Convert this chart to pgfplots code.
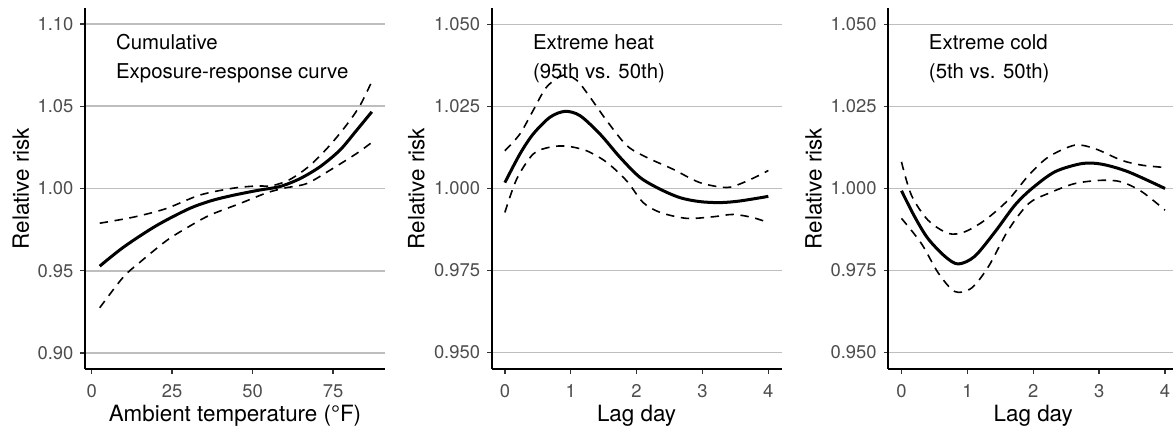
\documentclass[border=0pt]{standalone}
\usepackage{pgfplots}
\pgfplotsset{compat=1.18}
\usepackage{fontspec}
\setmainfont{TeX Gyre Heros}

\definecolor{tickgray}{HTML}{4D4D4D}
\definecolor{gridgray}{HTML}{BEBEBE}

\pgfplotsset{
  rrpanel/.style={
    scale only axis, height=180.5pt, anchor=south west,
    axis x line=bottom, axis y line=left,
    axis line style={-, line width=0.9pt, black},
    tick align=outside, major tick length=2.3pt,
    tick style={line width=0.7pt, black!80},
    ymajorgrids, grid style={gridgray, line width=0.9pt},
    /pgf/number format/assume math mode=true,
    ticklabel style={font=\fontsize{9.2}{11}\selectfont, text=tickgray},
    xticklabel style={yshift=-2pt},
    label style={font=\fontsize{11.2}{13}\selectfont},
    xlabel style={anchor=base, at={(axis description cs:0.5,-0.145)}},
    clip=false,
  },
  solidrr/.style={black, line width=1.5pt, smooth, no markers},
  dashrr/.style={black, line width=0.8pt, smooth, no markers, dash pattern=on 4.2pt off 3.3pt},
}
\tikzset{note/.style={anchor=base west, font=\fontsize{10.2}{12}\selectfont}}

\begin{document}
\begin{tikzpicture}
\useasboundingbox (0,0) rectangle (586.5pt,216pt);
\clip (0,0) rectangle (586.5pt,216pt);

% cumulative exposure-response
\begin{axis}[rrpanel, at={(42.5pt,31.5pt)}, width=150pt,
  xmin=-2.07, xmax=91.1, ymin=0.8903, ymax=1.1097,
  xtick={0,25,50,75}, ytick={0.90,0.95,1.00,1.05,1.10},
  yticklabel style={/pgf/number format/.cd, fixed, fixed zerofill, precision=2},
  xlabel={Ambient temperature (°F)}, ylabel={Relative risk},
  ylabel style={at={(axis description cs:-0.187,0.5)}, anchor=base}]
\addplot[dashrr] coordinates {(2.5,0.9789) (13,0.9826) (23,0.9877) (33.6,0.9960) (44,1.0002) (51,1.0015) (56,1.0017) (61.6,1.0055) (67.8,1.0140) (74,1.0263) (79.7,1.0400) (83.5,1.0510) (87,1.0650)};
\addplot[dashrr] coordinates {(2.5,0.9275) (9.8,0.9461) (15,0.9552) (23.3,0.9684) (30,0.9766) (36.7,0.9838) (46.1,0.9909) (54.3,0.9973) (60,1.0003) (66.8,1.0030) (74,1.0111) (82.3,1.0213) (87,1.0280)};
\addplot[solidrr] coordinates {(2.5,0.9528) (10,0.9645) (20,0.9773) (30,0.9875) (37,0.9925) (44,0.9959) (52,0.9990) (58.5,1.0012) (64.7,1.0060) (70.9,1.0132) (77.1,1.0233) (82.3,1.0354) (87,1.0466)};
\node[note] at (axis cs:5.4,1.0844) {Cumulative};
\node[note] at (axis cs:5.4,1.0668) {Exposure-response curve};
\end{axis}

% extreme heat
\begin{axis}[rrpanel, at={(245.85pt,31.5pt)}, width=144.9pt,
  xmin=-0.2, xmax=4.2, ymin=0.945, ymax=1.055,
  xtick={0,1,2,3,4}, ytick={0.950,0.975,1.000,1.025,1.050},
  yticklabel style={/pgf/number format/.cd, fixed, fixed zerofill, precision=3},
  xlabel={Lag day}, ylabel={Relative risk},
  ylabel style={at={(axis description cs:-0.2326,0.5)}, anchor=base}]
\addplot[dashrr] coordinates {(0,1.0115) (0.228,1.0166) (0.43,1.0238) (0.633,1.0309) (0.886,1.0345) (1.09,1.0330) (1.29,1.0279) (1.545,1.0207) (1.85,1.0131) (2.15,1.0095) (2.55,1.0059) (2.96,1.0018) (3.37,1.0003) (3.62,1.0018) (3.9,1.0044) (4,1.0055)};
\addplot[dashrr] coordinates {(0,0.9927) (0.18,1.0029) (0.43,1.0105) (0.684,1.0126) (0.937,1.0129) (1.24,1.0115) (1.545,1.0080) (1.85,1.0023) (2.1,0.9957) (2.36,0.9927) (2.76,0.9909) (3.17,0.9914) (3.47,0.9921) (3.77,0.9911) (4,0.9896)};
\addplot[solidrr] coordinates {(0,1.0018) (0.228,1.0105) (0.43,1.0166) (0.684,1.0217) (0.912,1.0235) (1.14,1.0222) (1.444,1.0166) (1.748,1.0095) (2.05,1.0034) (2.356,0.9998) (2.66,0.9972) (2.96,0.9960) (3.27,0.9957) (3.57,0.9962) (4,0.9976)};
\node[note] at (axis cs:0.32,1.0422) {Extreme heat};
\node[note] at (axis cs:0.32,1.0334) {(95th vs. 50th)};
\end{axis}

% extreme cold
\begin{axis}[rrpanel, at={(444.15pt,31.5pt)}, width=144.95pt,
  xmin=-0.2, xmax=4.2, ymin=0.945, ymax=1.055,
  xtick={0,1,2,3,4}, ytick={0.950,0.975,1.000,1.025,1.050},
  yticklabel style={/pgf/number format/.cd, fixed, fixed zerofill, precision=3},
  xlabel={Lag day}, ylabel={Relative risk},
  ylabel style={at={(axis description cs:-0.23,0.5)}, anchor=base}]
\addplot[dashrr] coordinates {(0,1.0081) (0.15,0.9980) (0.40,0.9904) (0.71,0.9863) (0.96,0.9868) (1.27,0.9904) (1.62,0.9965) (1.93,1.0040) (2.23,1.0096) (2.63,1.0132) (2.94,1.0121) (3.34,1.0086) (3.65,1.0071) (4,1.0064)};
\addplot[dashrr] coordinates {(0,0.9909) (0.30,0.9833) (0.56,0.9742) (0.81,0.9686) (1.06,0.9696) (1.32,0.9762) (1.62,0.9873) (1.93,0.9954) (2.23,0.9985) (2.63,1.0015) (3.04,1.0025) (3.34,1.0020) (3.65,0.9990) (4,0.9934)};
\addplot[solidrr] coordinates {(0,0.9993) (0.20,0.9914) (0.40,0.9848) (0.66,0.9793) (0.86,0.9770) (1.11,0.9793) (1.42,0.9868) (1.72,0.9949) (1.98,1.0000) (2.33,1.0051) (2.74,1.0076) (3.04,1.0074) (3.44,1.0051) (4,1.0000)};
\node[note] at (axis cs:0.31,1.0422) {Extreme cold};
\node[note] at (axis cs:0.31,1.0334) {(5th vs. 50th)};
\end{axis}
\end{tikzpicture}
\end{document}
